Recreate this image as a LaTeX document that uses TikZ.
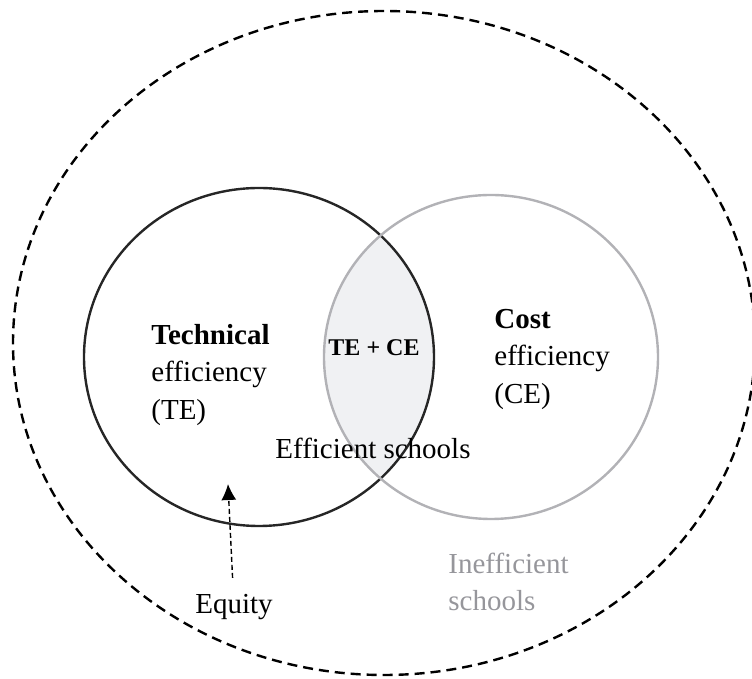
\documentclass[tikz,border=0pt]{standalone}
\usepackage{fontspec}
\setmainfont{Liberation Serif}
\usetikzlibrary{arrows.meta}
\definecolor{lensgray}{RGB}{240,241,243}
\definecolor{cegray}{RGB}{178,178,182}
\definecolor{ietext}{RGB}{150,150,155}
\tikzset{
  bigtext/.style={font=\fontsize{14.5}{18.75}\selectfont, inner sep=0pt, align=left},
  lenstext/.style={font=\fontsize{12}{14}\selectfont\bfseries, inner sep=0pt},
  eqarrow/.style={line width=0.7pt, dash pattern=on 2.5pt off 1.5pt, -{Latex[length=8pt,width=7.5pt]}}
}
\begin{document}
\begin{tikzpicture}[x=0.5pt,y=-0.5pt]
		\useasboundingbox (0,0) rectangle (752,679);
		\def\allschools{(384,343) ellipse (371 and 332)}
		\def\tecircle{(259,357) ellipse (175 and 169)}
		\def\cecircle{(491,357) ellipse (167 and 162)}
		% overlap of TE and CE
		\begin{scope}
			\clip\tecircle;
			\fill[lensgray]\cecircle;
		\end{scope}
		\draw[line width=1.2pt, dash pattern=on 5pt off 3pt]\allschools;
		\draw[line width=1.2pt, black!85]\tecircle;
		\draw[line width=1.2pt, cegray]\cecircle;
		\node (te) at (151,375) [bigtext, anchor=west] {\textbf{Technical}\\efficiency\\(TE)};
		\node (ce) at (494,359) [bigtext, anchor=west] {\textbf{Cost}\\efficiency\\(CE)};
		\node (both) at (374,348) [lenstext] {TE + CE};
		\node (eff) at (373,448) [bigtext] {Efficient schools};
		\node (ineff) at (448,582) [bigtext, anchor=west, text=ietext] {Inefficient\\schools};
		\node (equity) at (234,607) [bigtext] {Equity};
		\coordinate (eqtip) at (228,484);
		\draw[eqarrow, shorten <=8pt] (equity) -- (eqtip);
	\end{tikzpicture}
\end{document}
